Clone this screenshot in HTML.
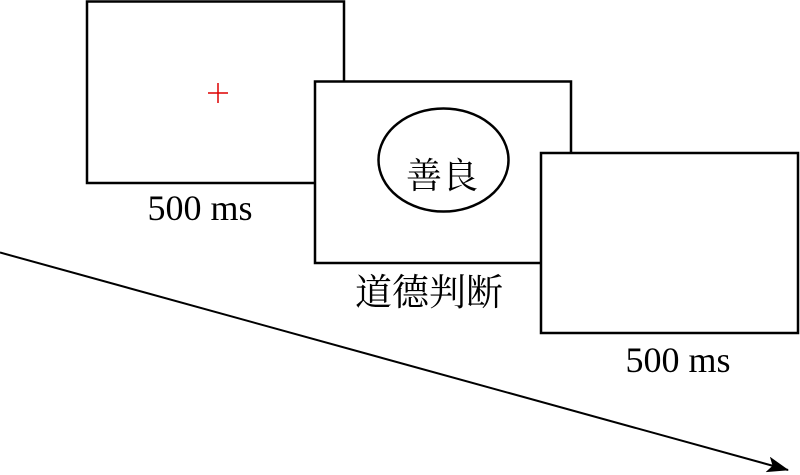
<!DOCTYPE html>
<html><head><meta charset="utf-8"><style>
html,body{margin:0;padding:0;background:#fff;width:800px;height:475px;overflow:hidden}
</style></head><body>
<svg width="800" height="475" viewBox="0 0 800 475" xmlns="http://www.w3.org/2000/svg">
<defs><marker id="ah" markerWidth="22" markerHeight="16" refX="21" refY="8" orient="auto" markerUnits="userSpaceOnUse"><path d="M0,0 L22,8 L0,16 L5,8 Z" fill="#000"/></marker></defs>
<line x1="0" y1="252.5" x2="788" y2="470" stroke="#000" stroke-width="2" marker-end="url(#ah)"/>
<rect x="87" y="1.5" width="257" height="181.5" fill="#fff" stroke="#000" stroke-width="2.5"/>
<line x1="208" y1="93" x2="228" y2="93" stroke="#d00" stroke-width="1.5"/>
<line x1="218" y1="83" x2="218" y2="103" stroke="#d00" stroke-width="1.5"/>
<text x="200" y="220" font-family="Liberation Serif, serif" font-size="36" text-anchor="middle">500 ms</text>
<rect x="315" y="81.5" width="256" height="181.5" fill="#fff" stroke="#000" stroke-width="2.5"/>
<ellipse cx="443.5" cy="160" rx="65" ry="51.5" fill="none" stroke="#000" stroke-width="2.5"/>
<text x="442" y="188" font-family="Liberation Serif, 'Noto Serif CJK SC', serif" font-size="36" text-anchor="middle">善良</text>
<text x="429" y="305" font-family="Liberation Serif, 'Noto Serif CJK SC', serif" font-size="37" text-anchor="middle">道德判断</text>
<rect x="541" y="153" width="257" height="180" fill="#fff" stroke="#000" stroke-width="2.5"/>
<text x="678" y="372" font-family="Liberation Serif, serif" font-size="36" text-anchor="middle">500 ms</text>
</svg>
</body></html>
